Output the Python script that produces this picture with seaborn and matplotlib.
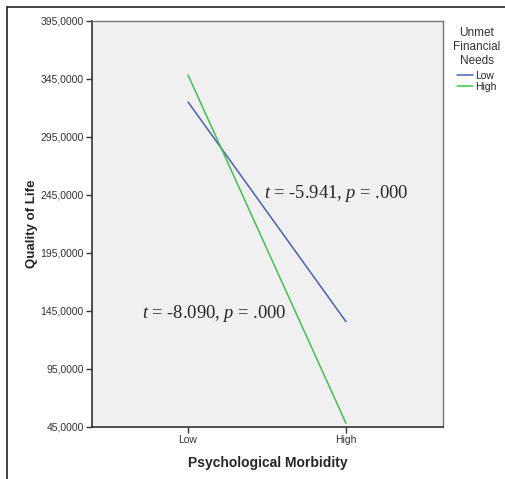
import numpy as np
import pandas as pd
import matplotlib
matplotlib.use("Agg")
import matplotlib.pyplot as plt
from matplotlib.lines import Line2D
from matplotlib.ticker import FuncFormatter
import seaborn as sns

# data
morbidity = ["Low", "High"]
qol_low_needs = [325.2, 135.8]
qol_high_needs = [348.4, 48.2]
groups = ["Low", "High"]
y_ticks = [45, 95, 145, 195, 245, 295, 345, 395]

df = pd.DataFrame({
    "Psychological Morbidity": morbidity * 2,
    "Quality of Life": qol_low_needs + qol_high_needs,
    "Unmet Financial Needs": [groups[0]] * 2 + [groups[1]] * 2,
})

sns.set_theme(style="white")
plt.rcParams["font.family"] = ["Liberation Sans", "DejaVu Sans"]
plt.rcParams["mathtext.fontset"] = "custom"
plt.rcParams["mathtext.it"] = "Liberation Serif:italic"
plt.rcParams["mathtext.rm"] = "Liberation Serif"

fig = plt.figure(figsize=(5.05, 4.79), dpi=100)
ax = fig.add_axes([92 / 505, 1 - 427 / 479, (443 - 92) / 505, (427 - 21) / 479])
ax.set_facecolor("#f0f0f0")

sns.lineplot(
    data=df, x="Psychological Morbidity", y="Quality of Life",
    hue="Unmet Financial Needs", palette=["#4a5fb0", "#3cc24c"],
    linewidth=1.1, legend=False, ax=ax, sort=False,
)

ax.set_xlim(-0.608, 1.614)
ax.set_ylim(45, 395)
ax.set_yticks(y_ticks)
ax.yaxis.set_major_formatter(FuncFormatter(lambda v, p: f"{v:.4f}".replace(".", ",")))
ax.tick_params(axis="both", which="both", length=4, width=1, color="#333333",
               labelsize=7.5, labelcolor="#333333", pad=2, direction="out")
ax.tick_params(left=True, bottom=True)

for side in ["left", "bottom"]:
    ax.spines[side].set_color("#333333")
    ax.spines[side].set_linewidth(1.2)
for side in ["top", "right"]:
    ax.spines[side].set_color("#777777")
    ax.spines[side].set_linewidth(1.0)

ax.set_xlabel("Psychological Morbidity", fontsize=10, fontweight="bold", labelpad=8)
ax.set_ylabel("Quality of Life", fontsize=9.5, fontweight="bold", labelpad=2)

# t-test annotations
ax.text(0.48, 246, r"$t$ = -5.941, $p$ = .000", fontsize=13.3,
        family="Liberation Serif", va="center", ha="left")
ax.text(-0.29, 142.5, r"$t$ = -8.090, $p$ = .000", fontsize=13.3,
        family="Liberation Serif", va="center", ha="left")

# legend outside on the right
handles = [Line2D([0], [0], color=c, lw=1.1) for c in ["#4a5fb0", "#3cc24c"]]
leg = fig.legend(handles, groups, title="Unmet\nFinancial\nNeeds",
                 loc="upper left", bbox_to_anchor=(446 / 505, 1 - 20 / 479),
                 frameon=False, fontsize=7.5, title_fontsize=8.5,
                 handlelength=1.5, handletextpad=0.2, labelspacing=0.05,
                 borderpad=0.2)
leg._legend_box.sep = 3
leg.get_title().set_multialignment("center")
leg.get_title().set_color("#333333")

# outer frame lines
fig.add_artist(Line2D([7 / 505, 7 / 505], [0, 1 - 7 / 479], color="#222222", lw=1.2,
                      transform=fig.transFigure))
fig.add_artist(Line2D([7 / 505, 1], [1 - 7 / 479, 1 - 7 / 479], color="#222222", lw=1.2,
                      transform=fig.transFigure))

fig.savefig("out.png", dpi=100, facecolor="white")
